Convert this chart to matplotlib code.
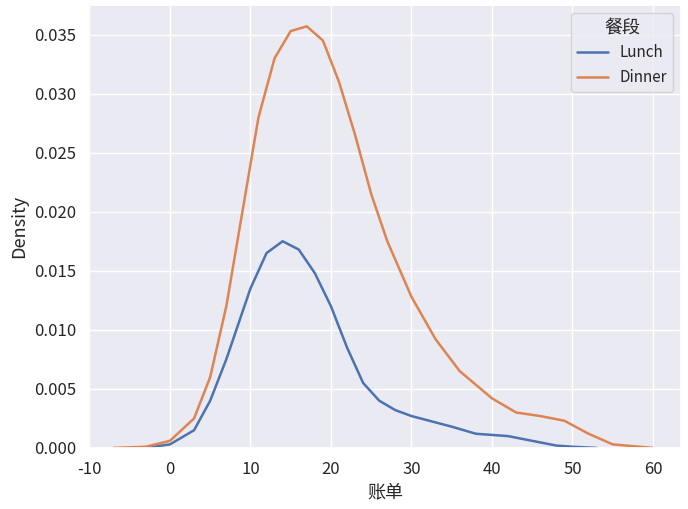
import matplotlib
matplotlib.use("Agg")
import matplotlib.pyplot as plt
import seaborn as sns
import numpy as np

sns.set_theme(style="darkgrid")
plt.rcParams['font.family'] = ['Noto Sans CJK SC', 'DejaVu Sans']
plt.rcParams['axes.unicode_minus'] = False

lunch_x = [-3, 0, 3, 5, 7, 10, 12, 14, 16, 18, 20, 22, 24, 26, 28, 30, 35, 38, 42, 45, 48, 50, 53]
lunch_y = [0, 0.0003, 0.0015, 0.004, 0.0075, 0.0135, 0.0165, 0.0175, 0.0168, 0.0148, 0.012, 0.0085,
           0.0055, 0.004, 0.0032, 0.0027, 0.0018, 0.0012, 0.001, 0.0006, 0.0002, 0.0001, 0]
dinner_x = [-7, -3, 0, 3, 5, 7, 9, 11, 13, 15, 17, 19, 21, 23, 25, 27, 30, 33, 36, 40, 43, 46, 49, 52, 55, 60]
dinner_y = [0, 0.0001, 0.0006, 0.0025, 0.006, 0.012, 0.020, 0.028, 0.033, 0.0353, 0.0357, 0.0345, 0.031,
            0.0265, 0.0215, 0.0175, 0.0128, 0.0092, 0.0065, 0.0042, 0.003, 0.0027, 0.0023, 0.0012, 0.0003, 0]

fig, ax = plt.subplots(figsize=(6.88, 5.09), dpi=100)
pal = sns.color_palette()
ax.plot(lunch_x, lunch_y, color=pal[0], lw=1.8, label="Lunch")
ax.plot(dinner_x, dinner_y, color=pal[1], lw=1.8, label="Dinner")
ax.set_xlim(-10, 63.5)
ax.set_ylim(0, 0.0375)
ax.set_xlabel("账单", fontsize=13)
ax.set_ylabel("Density", fontsize=13)
ax.tick_params(labelsize=12)
ax.set_yticks(np.arange(0, 0.0351, 0.005))
ax.set_yticklabels([f"{v:.3f}" for v in np.arange(0, 0.0351, 0.005)])
leg = ax.legend(title="餐段", loc="upper right", fontsize=11, title_fontsize=13)
fig.subplots_adjust(left=0.13, right=0.99, top=0.99, bottom=0.12)
fig.savefig("out.png")
